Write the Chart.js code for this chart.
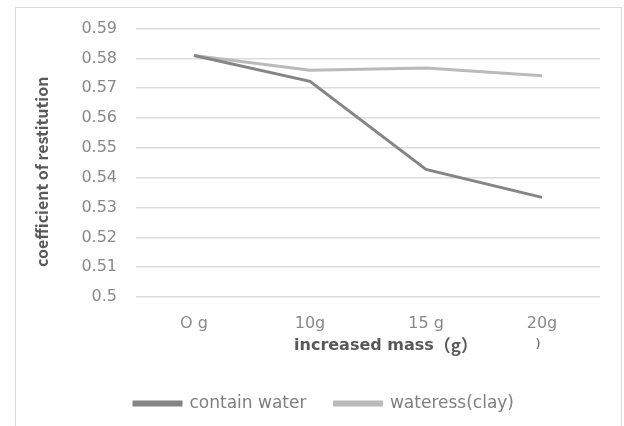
<!DOCTYPE html>
<html>
<head>
<meta charset="utf-8">
<script src="https://cdn.jsdelivr.net/npm/chart.js@4/dist/chart.umd.min.js"></script>
<style>
  html, body { margin: 0; padding: 0; background: #ffffff; }
  #wrap { width: 624px; height: 426px; position: relative; }
</style>
</head>
<body>
<div id="wrap"><canvas id="c" width="624" height="426"></canvas></div>
<script>
// Added mass categories and measured coefficients of restitution
const categories = ['O g', '10g', '15 g', '20g'];
const containWater = [0.581, 0.5723, 0.5428, 0.5334];
const wateressClay = [0.581, 0.576, 0.5768, 0.5742];
const yTicks = [0.5, 0.51, 0.52, 0.53, 0.54, 0.55, 0.56, 0.57, 0.58, 0.59];

const xTitleMain = 'increased mass';
const xTitleUnit = '（g）';
const yTitle = 'coefficient of restitution';

const FONT = 'DejaVu Sans, sans-serif';
const CJK = '"Noto Sans CJK SC", sans-serif';
const NARROW = '"Liberation Sans Narrow", "Noto Sans CJK SC", sans-serif';

// Outer frame and the axis titles
const decor = {
  id: 'decor',
  beforeDraw(chart) {
    const ctx = chart.ctx;
    ctx.save();
    ctx.strokeStyle = '#d9d9d9';
    ctx.lineWidth = 1;
    ctx.strokeRect(15.5, 7.5, 606, 440);
    ctx.restore();
  },
  afterDraw(chart) {
    const ctx = chart.ctx;
    const a = chart.chartArea;
    const xs = chart.scales.x;
    ctx.save();
    ctx.fillStyle = '#595959';
    ctx.textBaseline = 'middle';
    ctx.textAlign = 'left';
    // x title: latin part plus full-width bracketed unit
    const mainFont = 'bold 16px ' + FONT;
    const unitFont = 'bold 17px ' + CJK;
    ctx.font = mainFont;
    const w1 = ctx.measureText(xTitleMain).width;
    ctx.font = unitFont;
    const w2 = ctx.measureText(xTitleUnit).width;
    const cx = (a.left + a.right) / 2 + 18;
    const x0 = cx - (w1 + w2) / 2;
    const ty = a.bottom + 49;
    ctx.font = mainFont;
    ctx.fillText(xTitleMain, x0, ty);
    ctx.font = unitFont;
    ctx.fillText(xTitleUnit, x0 + w1, ty);
    // stray closing bracket below the last category
    ctx.textAlign = 'center';
    ctx.font = '13px ' + FONT;
    ctx.fillText(')', xs.getPixelForValue(3) - 4, a.bottom + 48);
    // rotated y title
    ctx.font = 'bold 16px ' + NARROW;
    ctx.translate(42, (a.top + a.bottom) / 2 + 9);
    ctx.rotate(-Math.PI / 2);
    ctx.fillText(yTitle, 0, 0);
    ctx.restore();
  }
};

new Chart(document.getElementById('c'), {
  type: 'line',
  data: {
    labels: categories,
    datasets: [
      {
        label: 'contain water',
        data: containWater,
        borderColor: '#858585',
        backgroundColor: '#858585',
        borderWidth: 3,
        pointRadius: 0,
        tension: 0
      },
      {
        label: 'wateress(clay)',
        data: wateressClay,
        borderColor: '#bababa',
        backgroundColor: '#bababa',
        borderWidth: 3,
        pointRadius: 0,
        tension: 0
      }
    ]
  },
  options: {
    responsive: false,
    animation: false,
    layout: { padding: { left: 48, right: 24, top: 24, bottom: 4 } },
    plugins: {
      legend: {
        position: 'bottom',
        labels: {
          boxWidth: 47,
          boxHeight: 3,
          padding: 28,
          color: '#7f7f7f',
          font: { family: FONT, size: 17 }
        }
      },
      tooltip: { enabled: false }
    },
    scales: {
      x: {
        offset: true,
        grid: { display: false, drawTicks: false },
        border: { display: false },
        ticks: {
          color: '#898989',
          font: { family: FONT, size: 16 },
          padding: 17,
          maxRotation: 0
        },
        afterFit(scale) { scale.height = 70; }
      },
      y: {
        min: 0.5,
        max: 0.59,
        afterBuildTicks(scale) {
          scale.ticks = yTicks.map(v => ({ value: v }));
        },
        grid: { color: '#dcdcdc', lineWidth: 1.5, drawTicks: false },
        border: { display: false },
        ticks: {
          color: '#898989',
          font: { family: FONT, size: 16 },
          padding: 19,
          callback: v => String(+v.toFixed(2))
        },
        afterFit(scale) { scale.width = 88; }
      }
    }
  },
  plugins: [decor]
});
</script>
</body>
</html>
